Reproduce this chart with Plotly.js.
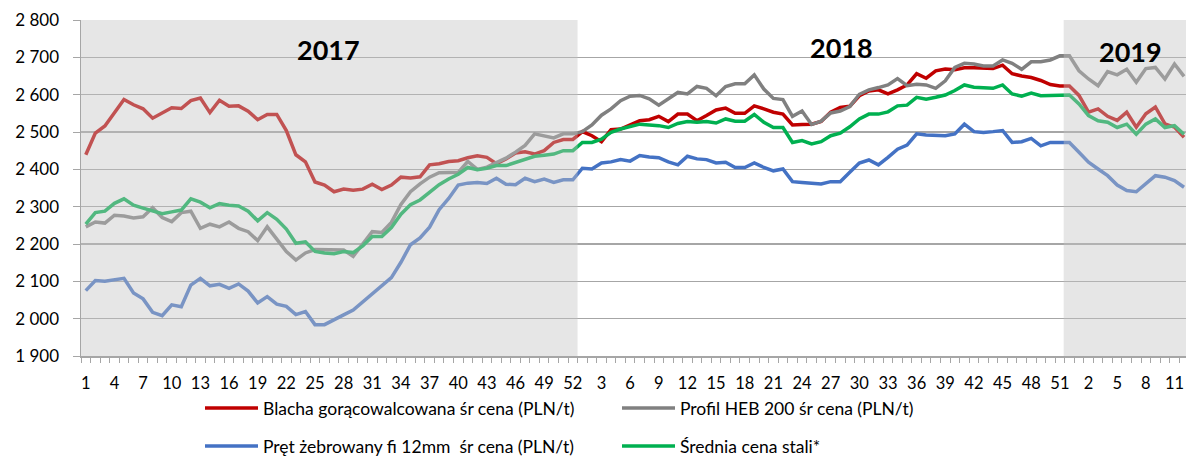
<!DOCTYPE html>
<html>
<head>
<meta charset="utf-8">
<script src="https://cdn.plot.ly/plotly-3.0.1.min.js"></script>
<style>html,body{margin:0;padding:0;background:#fff;}#chart{width:1186px;height:457px;}</style>
</head>
<body>
<div id="chart"></div>
<script>
// Week labels: 2017 (52 weeks), 2018 (52 weeks), 2019 (12 weeks)
const weeks2017 = [1,2,3,4,5,6,7,8,9,10,11,12,13,14,15,16,17,18,19,20,21,22,23,24,25,26,27,28,29,30,31,32,33,34,35,36,37,38,39,40,41,42,43,44,45,46,47,48,49,50,51,52];
const weeks2018 = [1,2,3,4,5,6,7,8,9,10,11,12,13,14,15,16,17,18,19,20,21,22,23,24,25,26,27,28,29,30,31,32,33,34,35,36,37,38,39,40,41,42,43,44,45,46,47,48,49,50,51,52];
const weeks2019 = [1,2,3,4,5,6,7,8,9,10,11,12];
const weekLabels = weeks2017.concat(weeks2018, weeks2019);

const seriesNames = [
  "Blacha gorącowalcowana śr cena (PLN/t)",
  "Profil HEB 200 śr cena (PLN/t)",
  "Pręt żebrowany fi 12mm  śr cena (PLN/t)",
  "Średnia cena stali*"
];

const blacha = [
 2439,2497,2516,2550,2587,2573,2562,2537,2551,2565,2563,2584,2591,2552,2585,2569,2570,2556,2533,2547,
 2547,2504,2439,2420,2366,2358,2340,2347,2344,2347,2360,2346,2358,2379,2377,2380,2412,2415,2421,2423,
 2431,2436,2432,2415,2428,2444,2447,2441,2450,2472,2480,2480,
 2501,2490,2474,2506,2508,2519,2530,2533,2542,2528,2548,2548,2530,2544,2559,2564,2550,2550,2570,2562,
 2553,2548,2519,2520,2521,2528,2553,2566,2569,2597,2610,2613,2602,2613,2626,2656,2644,2664,2669,2667,
 2672,2672,2670,2670,2679,2656,2650,2646,2638,2627,2623,2623,
 2598,2553,2562,2542,2531,2553,2513,2549,2567,2522,2513,2486
];
const profil = [
 2246,2259,2256,2277,2275,2270,2273,2297,2271,2260,2284,2288,2242,2253,2246,2259,2242,2233,2209,2246,
 2213,2180,2157,2176,2185,2185,2183,2184,2167,2200,2233,2231,2258,2306,2340,2361,2379,2391,2392,2392,
 2421,2400,2406,2419,2430,2446,2464,2495,2489,2484,2495,2495,
 2501,2519,2545,2562,2584,2596,2598,2589,2572,2590,2606,2602,2622,2617,2597,2622,2629,2629,2653,2615,
 2590,2587,2542,2556,2520,2529,2551,2556,2568,2601,2613,2619,2626,2643,2624,2628,2626,2617,2637,2673,
 2684,2682,2677,2677,2693,2684,2668,2688,2688,2693,2704,2704,
 2664,2642,2624,2662,2653,2668,2633,2670,2673,2642,2682,2649
];
const pret = [
 2075,2102,2100,2104,2108,2069,2053,2017,2008,2037,2032,2090,2108,2088,2092,2081,2093,2074,2042,2059,
 2039,2033,2011,2019,1984,1984,1996,2010,2023,2044,2065,2087,2110,2151,2198,2216,2245,2292,2322,2358,
 2363,2365,2362,2376,2360,2359,2376,2367,2374,2365,2372,2372,
 2403,2401,2417,2420,2426,2422,2437,2433,2431,2420,2412,2435,2428,2426,2417,2419,2405,2405,2417,2405,
 2396,2401,2367,2365,2363,2361,2367,2367,2392,2417,2425,2412,2432,2454,2465,2495,2492,2492,2490,2495,
 2521,2501,2499,2501,2504,2472,2474,2483,2463,2472,2472,2472,
 2446,2419,2401,2383,2358,2343,2340,2361,2383,2379,2370,2352
];
const srednia = [
 2253,2284,2288,2309,2321,2304,2296,2288,2281,2286,2291,2321,2312,2297,2308,2304,2302,2288,2262,2284,
 2266,2240,2202,2206,2180,2176,2174,2180,2177,2195,2220,2220,2244,2280,2305,2318,2339,2359,2374,2387,
 2405,2399,2403,2410,2410,2419,2428,2435,2438,2441,2450,2450,
 2472,2472,2481,2499,2508,2514,2521,2519,2517,2512,2523,2528,2526,2528,2524,2535,2529,2529,2547,2526,
 2512,2512,2472,2477,2468,2474,2490,2497,2514,2535,2548,2548,2554,2570,2572,2593,2588,2593,2599,2611,
 2626,2620,2618,2617,2626,2602,2596,2604,2597,2597,2599,2599,
 2575,2544,2530,2526,2512,2521,2494,2521,2535,2512,2517,2494
];

const yearLabels = ["2017", "2018", "2019"];
const colors = ["#C00000", "#808080", "#4472C4", "#00B050"];

const xIdx = weekLabels.map((_, i) => i);
const tickvals = xIdx.filter(i => i % 3 === 0);
const ticktext = tickvals.map(i => String(weekLabels[i]));

const FONT = "Lato, 'Noto Sans', 'DejaVu Sans', sans-serif";
const allSeries = [blacha, profil, pret, srednia];
const legendOf = ["legend", "legend", "legend2", "legend2"];

const traces = allSeries.map((ys, k) => ({
  type: "scatter",
  mode: "lines",
  x: xIdx,
  y: ys,
  name: seriesNames[k],
  legend: legendOf[k],
  line: {color: colors[k], width: 3.5},
  hoverinfo: "x+y+name"
}));

const xMax = -0.5 + 1105 / 9.55;
const y2019start = weeks2017.length + weeks2018.length - 1.6;

const legendCommon = {
  orientation: "h",
  x: (200 - 81) / 1105, xanchor: "left",
  yanchor: "middle",
  itemwidth: 53,
  entrywidth: 349, entrywidthmode: "pixels",
  bgcolor: "rgba(0,0,0,0)",
  font: {family: FONT, size: 17.5, color: "#000"},
  traceorder: "normal"
};

const layout = {
  width: 1186,
  height: 457,
  margin: {l: 81, r: 0, t: 20, b: 101, pad: 0, autoexpand: false},
  paper_bgcolor: "#ffffff",
  plot_bgcolor: "#ffffff",
  separators: ", ",
  font: {family: FONT, size: 16, color: "#000"},
  showlegend: true,
  xaxis: {
    range: [-0.5, xMax],
    tickmode: "array",
    tickvals: tickvals,
    ticktext: ticktext,
    ticks: "",
    showgrid: false,
    zeroline: false,
    showline: true,
    linecolor: "#A6A6A6",
    linewidth: 1.5,
    tickfont: {family: FONT, size: 16.5, color: "#000"},
    ticklabelstandoff: 12,
    minor: {tickmode: "linear", tick0: -0.5, dtick: 1, ticks: "outside", ticklen: 5, tickcolor: "#A6A6A6", tickwidth: 1, showgrid: false},
    fixedrange: true
  },
  yaxis: {
    range: [1900, 2800],
    tickmode: "linear",
    tick0: 1900,
    dtick: 100,
    tickformat: ",d",
    ticks: "outside",
    ticklen: 7,
    tickcolor: "#A6A6A6",
    showgrid: true,
    gridcolor: "#A6A6A6",
    gridwidth: 1.3,
    zeroline: false,
    showline: true,
    linecolor: "#A6A6A6",
    linewidth: 1.5,
    tickfont: {family: FONT, size: 17, color: "#000"},
    ticklabelstandoff: 10,
    fixedrange: true
  },
  shapes: [
    {type: "rect", xref: "x", yref: "paper", x0: -0.5, x1: weeks2017.length - 0.5, y0: 0, y1: 1,
     fillcolor: "rgba(195,195,195,0.42)", line: {width: 0}, layer: "above"},
    {type: "rect", xref: "x", yref: "paper", x0: y2019start, x1: xMax, y0: 0, y1: 1,
     fillcolor: "rgba(195,195,195,0.42)", line: {width: 0}, layer: "above"}
  ],
  annotations: [
    {text: "<b>" + yearLabels[0] + "</b>", xref: "paper", yref: "paper", x: (328 - 81) / 1105, y: (356 - 49) / 336, showarrow: false, xanchor: "center", yanchor: "middle", font: {family: FONT, size: 27, color: "#000"}},
    {text: "<b>" + yearLabels[1] + "</b>", xref: "paper", yref: "paper", x: (841 - 81) / 1105, y: (356 - 47) / 336, showarrow: false, xanchor: "center", yanchor: "middle", font: {family: FONT, size: 27, color: "#000"}},
    {text: "<b>" + yearLabels[2] + "</b>", xref: "paper", yref: "paper", x: (1130 - 81) / 1105, y: (356 - 51) / 336, showarrow: false, xanchor: "center", yanchor: "middle", font: {family: FONT, size: 27, color: "#000"}}
  ],
  legend: Object.assign({}, legendCommon, {y: -(408 - 356) / 336}),
  legend2: Object.assign({}, legendCommon, {y: -(446 - 356) / 336})
};

Plotly.newPlot("chart", traces, layout, {displayModeBar: false, staticPlot: true});
</script>
</body>
</html>
